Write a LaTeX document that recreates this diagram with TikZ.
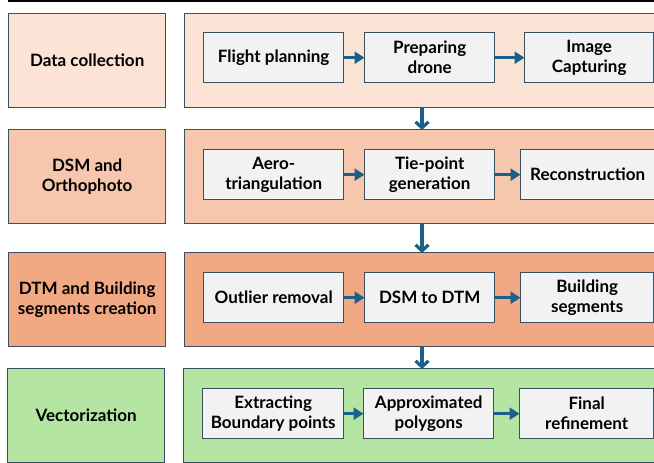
\documentclass[tikz,border=0pt]{standalone}
\usepackage{fontspec}
\setmainfont{Lato}
\usetikzlibrary{arrows.meta}
\definecolor{edgec}{HTML}{3A505E}
\definecolor{arrowc}{HTML}{1A6189}
\definecolor{stageA}{HTML}{FBE3D6}
\definecolor{stageB}{HTML}{F6C6AD}
\definecolor{stageC}{HTML}{F1A983}
\definecolor{stageD}{HTML}{B4E5A2}
\definecolor{taskc}{HTML}{F2F2F2}
\tikzset{
  label box/.style={draw=edgec, line width=1.4pt, anchor=north west,
    minimum width=157pt, minimum height=94pt, inner sep=0pt,
    align=center, font=\fontsize{17}{20.5}\selectfont\bfseries},
  lane/.style={draw=edgec, line width=1.4pt, anchor=north west,
    minimum width=500pt, minimum height=94pt, inner sep=0pt},
  task/.style={draw=edgec, line width=1.4pt, fill=taskc, anchor=north west,
    minimum height=50pt, inner sep=0pt, align=center,
    font=\fontsize{17}{20}\selectfont\bfseries},
  flow/.style={draw=arrowc, line width=3.2pt, -{Triangle[length=10pt,width=12pt]}, shorten >=-0.5pt},
  drop/.style={draw=arrowc, line width=3.2pt, -{Straight Barb[length=6pt,width=13pt,line width=3.2pt]}}
}
\begin{document}
\begin{tikzpicture}[x=1pt, y=-1pt]
\useasboundingbox (0,0) rectangle (654,463);
\clip (0,0) rectangle (654,463);
% rule across the top
\draw[line width=2.6pt] (8,1) -- (660,1);

% stage labels on the left
\node[label box, fill=stageA] (s1) at (8,13)  {Data collection};
\node[label box, fill=stageB] (s2) at (8,129) {DSM and\\Orthophoto};
\node[label box, fill=stageC] (s3) at (8,252) {DTM and Building\\segments creation};
\node[label box, fill=stageD] (s4) at (7,368) {Vectorization};

% lanes holding the steps of each stage
\node[lane, fill=stageA] (p1) at (184,13)  {};
\node[lane, fill=stageB] (p2) at (184,129) {};
\node[lane, fill=stageC] (p3) at (184,252) {};
\node[lane, fill=stageD] (p4) at (183,368) {};

% steps
\node[task, minimum width=140pt] (a1) at (203,32) {Flight planning};
\node[task, minimum width=130pt] (a2) at (364,32) {Preparing\\drone};
\node[task, minimum width=129pt] (a3) at (524,32) {Image\\Capturing};

\node[task, minimum width=140pt] (b1) at (203,149) {Aero-\\triangulation};
\node[task, minimum width=130pt] (b2) at (364,149) {Tie-point\\generation};
\node[task, minimum width=140pt] (b3) at (520,149) {Reconstruction\hspace*{6pt}};

\node[task, minimum width=140pt] (c1) at (203,272) {Outlier removal};
\node[task, minimum width=130pt] (c2) at (364,272) {DSM to DTM};
\node[task, minimum width=133pt] (c3) at (520,272) {Building\\segments};

\node[task, minimum width=141pt] (d1) at (202,388) {Extracting\\Boundary points};
\node[task, minimum width=130pt] (d2) at (363,388) {Approximated\\polygons};
\node[task, minimum width=134pt] (d3) at (519,388) {Final\\refinement};

% flow inside each lane
\foreach \r in {a,b,c,d}{
  \draw[flow] (\r1) -- (\r2);
  \draw[flow] (\r2) -- (\r3);
}

% flow between lanes
\coordinate (x) at (422,0);
\draw[drop] (p1.south -| x) -- ([yshift=-1pt]p2.north -| x);
\draw[drop] (p2.south -| x) -- ([yshift=-1pt]p3.north -| x);
\draw[drop] (p3.south -| x) -- ([yshift=-1pt]p4.north -| x);
\end{tikzpicture}
\end{document}
